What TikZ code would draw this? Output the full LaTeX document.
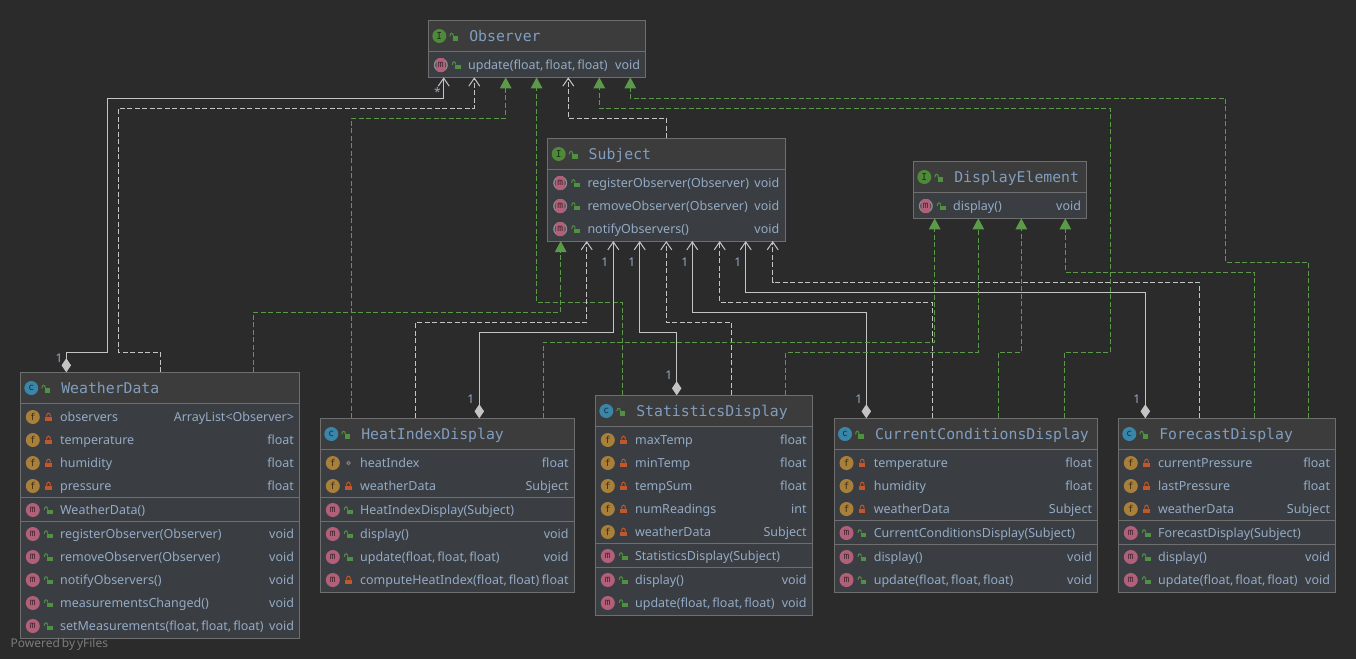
\documentclass[tikz,border=0pt]{standalone}
\usepackage{fontspec}
\usetikzlibrary{arrows.meta}
\newfontfamily\rowface[WordSpace=0.6]{Noto Sans}
\newfontfamily\titleface{DejaVu Sans Mono}
\newfontfamily\iconface{DejaVu Sans Mono}
\definecolor{canvas}{HTML}{2B2B2B}
\definecolor{headfill}{HTML}{3C3C3C}
\definecolor{bodyfill}{HTML}{3A3E42}
\definecolor{frame}{HTML}{6E6E6E}
\definecolor{rowtext}{HTML}{94AAC5}
\definecolor{titletext}{HTML}{819EC0}
\definecolor{wire}{HTML}{C4C4C4}
\definecolor{realize}{HTML}{5A9A48}
\definecolor{lockgreen}{HTML}{4F9140}
\definecolor{lockorange}{HTML}{C2572C}
\definecolor{icoI}{HTML}{4E8A3A}
\definecolor{icoC}{HTML}{3A86A8}
\definecolor{icoF}{HTML}{A9803A}
\definecolor{icoM}{HTML}{B2607A}
\tikzset{
  x=1pt,y=-1pt,
  umlbox/.style={draw=frame,line width=1pt,fill=bodyfill,inner sep=0pt,outer sep=0pt,anchor=north west},
  rowlabel/.style={text=rowtext,inner sep=0pt,outer sep=0pt,font=\rowface\fontsize{12.5}{15}\selectfont},
  titlelabel/.style={text=titletext,inner sep=0pt,outer sep=0pt,anchor=base west,font=\titleface\fontsize{14.8}{16}\selectfont},
  badge/.style={circle,minimum size=14pt,inner sep=0pt,outer sep=0pt,font=\iconface\fontsize{9.5}{10}\selectfont},
  multi/.style={text=rowtext,inner sep=0pt,outer sep=0pt,font=\rowface\fontsize{12}{14}\selectfont},
  aggr/.style={draw=wire,line width=1pt,{Diamond[length=14pt,width=9.5pt,fill=wire]}-{Straight Barb[length=8pt,width=11pt,line width=1pt]}},
  depend/.style={draw=wire,line width=1pt,dash pattern=on 5pt off 2.5pt,-{Straight Barb[length=8pt,width=11pt,line width=1pt]}},
  implement/.style={draw=realize,line width=1pt,dash pattern=on 5pt off 2.5pt,-{Triangle[length=11pt,width=11.5pt,fill=realize]}},
}
\newcount\rowno
% Class frame: id, left, top, right, bottom, y of the line under the header
\newcommand\classframe[6]{%
  \node[umlbox,minimum width={(#4-#2)*1pt},minimum height={(#5-#3)*1pt}] (#1) at (#2,#3) {};
  \fill[headfill] (#2+0.5,#3+0.5) rectangle (#4-0.5,#6);
  \draw[frame,line width=1pt] (#2,#6) -- (#4,#6);
}
\newcommand\divider[2]{\draw[frame,line width=1pt] (#1.north west |- 0,#2) -- (#1.north east |- 0,#2);}
\newcommand\lockopen[1]{\begin{scope}[shift={(#1)}]
  \fill[lockgreen] (-1.5,-0.5) rectangle (4.2,4);
  \draw[lockgreen,line width=1pt] (-0.8,-0.5) .. controls (-0.8,-4.2) and (-4.2,-4.2) .. (-4.2,-0.2);
\end{scope}}
\newcommand\lockshut[1]{\begin{scope}[shift={(#1)}]
  \fill[lockorange] (-3.2,-0.5) rectangle (3.2,4);
  \draw[lockorange,line width=1pt] (-2,-0.5) .. controls (-2,-5) and (2,-5) .. (2,-0.5);
\end{scope}}
\newcommand\lockpkg[1]{\draw[gray,line width=1pt] (#1) circle[radius=1.7];}
% Abstract method badge: grey ring behind a pink capsule
\newcommand\abstractbadge[2]{%
  \draw[gray!90,line width=1.4pt] (#2) circle[radius=6.3];
  \node[rounded corners=3pt,fill=icoM,minimum width=9pt,minimum height=14pt,inner sep=0pt,outer sep=0pt,
        text=icoM!35!black,font=\iconface\fontsize{9.5}{10}\selectfont] (#1) at (#2) {m};
}
% Class header: id, y centre, badge letter, badge colour, title
\newcommand\header[5]{%
  \coordinate (#1-h) at (#1.north west |- 0,#2);
  \node[badge,fill=#4,text=#4!35!black] (#1-badge) at ([xshift=11pt]#1-h) {#3};
  \lockopen{[xshift=25.8pt,yshift=-0.5pt]#1-h}
  \node[titlelabel] (#1-title) at ([xshift=41pt,yshift=-5.5pt]#1-h) {#5};
}
% Member row: box id, y centre, kind (f/m/a), visibility (pub/priv/pkg), label, type
\newcommand\member[6]{%
  \global\advance\rowno by 1
  \edef\rid{row\the\rowno}%
  \coordinate (\rid-w) at (#1.north west |- 0,#2);
  \coordinate (\rid-e) at (#1.north east |- 0,#2);
  \csname kind#3\endcsname{\rid-i}{[xshift=12.5pt]\rid-w}%
  \csname vis#4\endcsname{[xshift=28.2pt]\rid-w}%
  \node[rowlabel,anchor=base west] (\rid-l) at ([xshift=39.8pt,yshift=-4.5pt]\rid-w) {#5};
  \if\relax\detokenize{#6}\relax\else
    \node[rowlabel,anchor=base east] (\rid-t) at ([xshift=-5.7pt,yshift=-4.5pt]\rid-e) {#6};
  \fi
}
\newcommand\kindf[2]{\node[badge,fill=icoF,text=icoF!35!black] (#1) at (#2) {f};}
\newcommand\kindm[2]{\node[badge,fill=icoM,text=icoM!35!black] (#1) at (#2) {m};}
\newcommand\kinda[2]{\abstractbadge{#1}{#2}}
\newcommand\vispub[1]{\lockopen{#1}}
\newcommand\vispriv[1]{\lockshut{#1}}
\newcommand\vispkg[1]{\lockpkg{#1}}
\begin{document}
\begin{tikzpicture}
\useasboundingbox (0,0) rectangle (1356,659);
\fill[canvas] (0,0) rectangle (1356,659);

% Observer
\classframe{obs}{428.3}{20.3}{645.7}{77.3}{51.3}
\header{obs}{36}{I}{icoI}{Observer}
\member{obs}{65}{a}{pub}{update(float, float, float)}{void}

% Subject
\classframe{sub}{547.7}{138.3}{785}{241}{169.3}
\header{sub}{154}{I}{icoI}{Subject}
\member{sub}{183}{a}{pub}{registerObserver(Observer)}{void}
\member{sub}{206}{a}{pub}{removeObserver(Observer)}{void}
\member{sub}{229}{a}{pub}{notifyObservers()}{void}

% DisplayElement
\classframe{dis}{913.3}{161.3}{1086.7}{218.3}{192.3}
\header{dis}{177}{I}{icoI}{DisplayElement}
\member{dis}{206}{a}{pub}{display()}{void}

% WeatherData
\classframe{wd}{20.3}{372.3}{299.7}{638.3}{403.3}
\header{wd}{388}{c}{icoC}{WeatherData}
\member{wd}{417}{f}{priv}{observers}{ArrayList<Observer>}
\member{wd}{440}{f}{priv}{temperature}{float}
\member{wd}{463}{f}{priv}{humidity}{float}
\member{wd}{486}{f}{priv}{pressure}{float}
\divider{wd}{497.3}
\member{wd}{510}{m}{pub}{WeatherData()}{}
\divider{wd}{521.7}
\member{wd}{534}{m}{pub}{registerObserver(Observer)}{void}
\member{wd}{557}{m}{pub}{removeObserver(Observer)}{void}
\member{wd}{580}{m}{pub}{notifyObservers()}{void}
\member{wd}{603}{m}{pub}{measurementsChanged()}{void}
\member{wd}{626}{m}{pub}{setMeasurements(float, float, float)}{void}

% HeatIndexDisplay
\classframe{hid}{320.3}{418.3}{574.3}{592.3}{449.3}
\header{hid}{434}{c}{icoC}{HeatIndexDisplay}
\member{hid}{463}{f}{pkg}{heatIndex}{float}
\member{hid}{486}{f}{priv}{weatherData}{Subject}
\divider{hid}{497.3}
\member{hid}{510}{m}{pub}{HeatIndexDisplay(Subject)}{}
\divider{hid}{521.3}
\member{hid}{534}{m}{pub}{display()}{void}
\member{hid}{557}{m}{pub}{update(float, float, float)}{void}
\member{hid}{580}{m}{priv}{computeHeatIndex(float, float)}{float}

% StatisticsDisplay
\classframe{sta}{595.3}{395.3}{812.3}{615.3}{426.3}
\header{sta}{411}{c}{icoC}{StatisticsDisplay}
\member{sta}{440}{f}{priv}{maxTemp}{float}
\member{sta}{463}{f}{priv}{minTemp}{float}
\member{sta}{486}{f}{priv}{tempSum}{float}
\member{sta}{509}{f}{priv}{numReadings}{int}
\member{sta}{532}{f}{priv}{weatherData}{Subject}
\divider{sta}{543.3}
\member{sta}{556}{m}{pub}{StatisticsDisplay(Subject)}{}
\divider{sta}{567.3}
\member{sta}{580}{m}{pub}{display()}{void}
\member{sta}{603}{m}{pub}{update(float, float, float)}{void}

% CurrentConditionsDisplay
\classframe{ccd}{834}{418.3}{1097.7}{592.3}{449.3}
\header{ccd}{434}{c}{icoC}{CurrentConditionsDisplay}
\member{ccd}{463}{f}{priv}{temperature}{float}
\member{ccd}{486}{f}{priv}{humidity}{float}
\member{ccd}{509}{f}{priv}{weatherData}{Subject}
\divider{ccd}{520.3}
\member{ccd}{533}{m}{pub}{CurrentConditionsDisplay(Subject)}{}
\divider{ccd}{544.3}
\member{ccd}{557}{m}{pub}{display()}{void}
\member{ccd}{580}{m}{pub}{update(float, float, float)}{void}

% ForecastDisplay
\classframe{fcd}{1118.3}{418.3}{1335.7}{592.3}{449.3}
\header{fcd}{434}{c}{icoC}{ForecastDisplay}
\member{fcd}{463}{f}{priv}{currentPressure}{float}
\member{fcd}{486}{f}{priv}{lastPressure}{float}
\member{fcd}{509}{f}{priv}{weatherData}{Subject}
\divider{fcd}{520.3}
\member{fcd}{533}{m}{pub}{ForecastDisplay(Subject)}{}
\divider{fcd}{544.3}
\member{fcd}{557}{m}{pub}{display()}{void}
\member{fcd}{580}{m}{pub}{update(float, float, float)}{void}

% Relations into Observer
\draw[aggr] (66.3,0 |- wd.north) -- (66.3,352.3) -- (107.7,352.3) -- (107.7,98.3) -- (443.7,98.3) -- (443.7,0 |- obs.south);
\draw[depend] (160.3,0 |- wd.north) -- (160.3,352.3) -- (118.3,352.3) -- (118.3,108.3) -- (474.3,108.3) -- (474.3,0 |- obs.south);
\draw[implement] (351.3,0 |- hid.north) -- (351.3,118.3) -- (505.7,118.3) -- (505.7,0 |- obs.south);
\draw[implement] (622.3,0 |- sta.north) -- (622.3,302.3) -- (536.6,302.3) -- (536.6,0 |- obs.south);
\draw[depend] (666.7,0 |- sub.north) -- (666.7,118.3) -- (568.3,118.3) -- (568.3,0 |- obs.south);
\draw[implement] (1064.3,0 |- ccd.north) -- (1064.3,352.3) -- (1110.3,352.3) -- (1110.3,108.3) -- (599.3,108.3) -- (599.3,0 |- obs.south);
\draw[implement] (1308.7,0 |- fcd.north) -- (1308.7,262.3) -- (1225.7,262.3) -- (1225.7,98.3) -- (630.3,98.3) -- (630.3,0 |- obs.south);

% Relations into Subject
\draw[implement] (253.3,0 |- wd.north) -- (253.3,312.3) -- (560.7,312.3) -- (560.7,0 |- sub.south);
\draw[depend] (415.7,0 |- hid.north) -- (415.7,322.3) -- (586.7,322.3) -- (586.7,0 |- sub.south);
\draw[aggr] (479.3,0 |- hid.north) -- (479.3,332.3) -- (613.3,332.3) -- (613.3,0 |- sub.south);
\draw[aggr] (676.7,0 |- sta.north) -- (676.7,332.3) -- (639.7,332.3) -- (639.7,0 |- sub.south);
\draw[depend] (731.7,0 |- sta.north) -- (731.7,322.3) -- (666.3,322.3) -- (666.3,0 |- sub.south);
\draw[aggr] (866.3,0 |- ccd.north) -- (866.3,312.3) -- (692.3,312.3) -- (692.3,0 |- sub.south);
\draw[depend] (932.3,0 |- ccd.north) -- (932.3,302.3) -- (719.7,302.3) -- (719.7,0 |- sub.south);
\draw[aggr] (1145.3,0 |- fcd.north) -- (1145.3,292.3) -- (745.7,292.3) -- (745.7,0 |- sub.south);
\draw[depend] (1199.3,0 |- fcd.north) -- (1199.3,282.3) -- (772.7,282.3) -- (772.7,0 |- sub.south);

% Relations into DisplayElement
\draw[implement] (543.3,0 |- hid.north) -- (543.3,342.3) -- (934.7,342.3) -- (934.7,0 |- dis.south);
\draw[implement] (785.7,0 |- sta.north) -- (785.7,352.3) -- (978.3,352.3) -- (978.3,0 |- dis.south);
\draw[implement] (998.3,0 |- ccd.north) -- (998.3,352.3) -- (1021.3,352.3) -- (1021.3,0 |- dis.south);
\draw[implement] (1254.7,0 |- fcd.north) -- (1254.7,272.3) -- (1065.3,272.3) -- (1065.3,0 |- dis.south);

% Multiplicities
\node[multi] (m-star) at (437.5,92) {*};
\node[multi] (m-wd) at (59,358) {1};
\node[multi] (m-hid) at (470.7,399) {1};
\node[multi] (m-sta) at (668.7,375.7) {1};
\node[multi] (m-ccd) at (858.7,399) {1};
\node[multi] (m-fcd) at (1136.7,399) {1};
\node[multi] (m-s1) at (604.7,262) {1};
\node[multi] (m-s2) at (631.7,262) {1};
\node[multi] (m-s3) at (684.7,262) {1};
\node[multi] (m-s4) at (737.7,262) {1};

\node[text=white!38!canvas,inner sep=0pt,anchor=base west,font=\rowface\fontsize{12}{14}\selectfont] (credit) at (10.5,647) {Powered by yFiles};
\end{tikzpicture}
\end{document}
